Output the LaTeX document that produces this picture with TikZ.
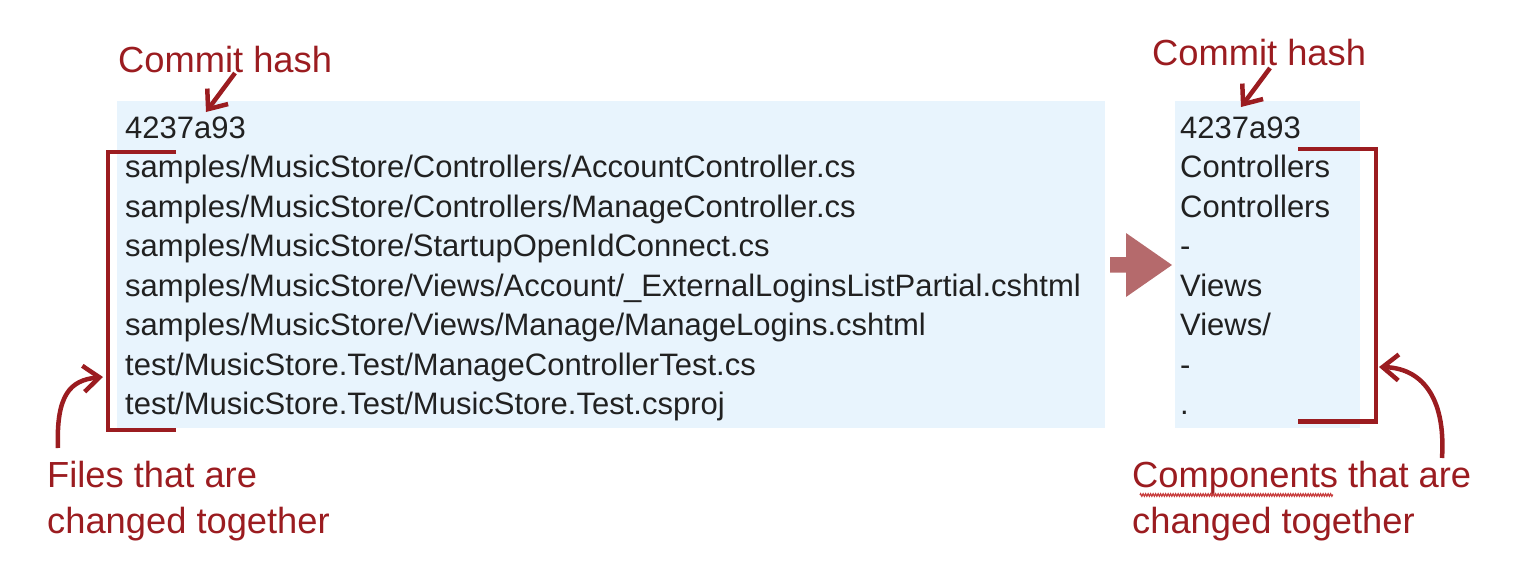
\documentclass[tikz,border=0pt]{standalone}
\usepackage{fontspec}
\setmainfont{Liberation Sans}
\usetikzlibrary{arrows.meta,decorations.pathmorphing}
\definecolor{boxblue}{RGB}{232,244,253}
\definecolor{darkred}{RGB}{155,28,32}
\definecolor{txt}{RGB}{33,33,33}
\definecolor{bigarrow}{RGB}{181,106,108}
\definecolor{squig}{RGB}{200,60,60}
\begin{document}
\begin{tikzpicture}[x=1pt,y=-1pt,
  codetext/.style={inner sep=0pt,anchor=base west,text=txt,font=\fontsize{31}{36}\selectfont},
  redlabel/.style={inner sep=0pt,anchor=base west,text=darkred,font=\fontsize{36.3}{42}\selectfont},
  listbox/.style={fill=boxblue,draw=none},
  bracket/.style={draw=darkred,line width=4.5pt},
  pointer/.style={draw=darkred,line width=4.5pt,-{Straight Barb[length=16pt,width=26pt,line width=4.5pt]}}]
\useasboundingbox (0,0) rectangle (1536,568);
% boxes
\path[listbox] (117,101) rectangle (1105,428);
\path[listbox] (1175,101) rectangle (1360,428);
% left column
\node[codetext] (lh) at (125,138) {4237a93};
\node[codetext] (l1) at (125,177.5) {samples/MusicStore/Controllers/AccountController.cs};
\node[codetext] (l2) at (125,217) {samples/MusicStore/Controllers/ManageController.cs};
\node[codetext] (l3) at (125,256.5) {samples/MusicStore/StartupOpenIdConnect.cs};
\node[codetext] (l4) at (125,296) {samples/MusicStore/Views/Account/\_ExternalLoginsListPartial.cshtml};
\node[codetext] (l5) at (125,335.5) {samples/MusicStore/Views/Manage/ManageLogins.cshtml};
\node[codetext] (l6) at (125,375) {test/MusicStore.Test/ManageControllerTest.cs};
\node[codetext] (l7) at (125,414.5) {test/MusicStore.Test/MusicStore.Test.csproj};
% right column
\node[codetext] (rh) at (1180,138) {4237a93};
\node[codetext] (r1) at (1180,177.5) {Controllers};
\node[codetext] (r2) at (1180,217) {Controllers};
\node[codetext] (r3) at (1180,256.5) {-};
\node[codetext] (r4) at (1180,296) {Views};
\node[codetext] (r5) at (1180,335.5) {Views/};
\node[codetext] (r6) at (1180,375) {-};
\node[codetext] (r7) at (1180,414.5) {.};
% labels
\node[redlabel] (ch1) at (118,72) {Commit hash};
\node[redlabel] (ch2) at (1152,65) {Commit hash};
\node[redlabel] (fl1) at (47,487) {Files that are};
\node[redlabel] (fl2) at (47,533) {changed together};
\node[redlabel] (cl1) at (1132,487) {Components that are};
\node[redlabel] (cl2) at (1132,533) {changed together};
% squiggle
\coordinate (sqa) at (1140,495);
\coordinate (sqb) at (1333,495);
\draw[squig,line width=1.3pt,decorate,decoration={zigzag,amplitude=1.2pt,segment length=2.5pt}] (sqa) -- (sqb);
% brackets
\draw[bracket] (176,152) -- (108,152) -- (108,430) -- (176,430);
\draw[bracket] (1298,149) -- (1376,149) -- (1376,421.5) -- (1298,421.5);
% commit hash pointers
\coordinate (p1a) at (235,73);
\coordinate (p1b) at (206,112);
\draw[pointer] (p1a) -- (p1b);
\coordinate (p2a) at (1270,68);
\coordinate (p2b) at (1241,107);
\draw[pointer] (p2a) -- (p2b);
% curved pointers
\coordinate (c1a) at (58,448);
\coordinate (c1b) at (103,377);
\draw[pointer] (c1a) .. controls (56,395) and (70,380) .. (c1b);
\coordinate (c2a) at (1442,458);
\coordinate (c2b) at (1379,367);
\draw[pointer] (c2a) .. controls (1446,395) and (1420,368) .. (c2b);
% big arrow
\fill[bigarrow] (1110,257) -- (1126,257) -- (1126,233) -- (1172,265) -- (1126,297) -- (1126,272.5) -- (1110,272.5) -- cycle;
\end{tikzpicture}
\end{document}
